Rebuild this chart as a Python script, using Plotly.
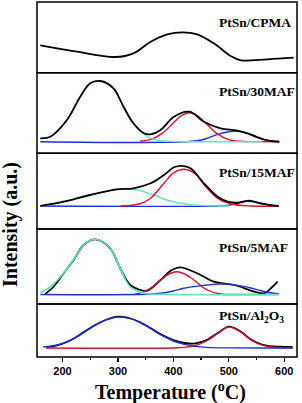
import plotly.graph_objects as go

# ---------------- data (temperature in degC, intensity in a.u.) ----------------
# Panel 1: PtSn/CPMA
cpma_T = [160, 226, 295, 328, 359, 389, 416, 443, 473, 503, 522, 570, 617]
cpma_black = [27.4, 21, 15.7, 19.4, 31, 38.4, 40.4, 38.4, 29.4, 16.7, 12.4, 13.4, 15]

# Panel 2: PtSn/30MAF
m30_T_black = [160, 178, 208, 232, 250, 268, 292, 310, 328, 347, 359, 377, 401, 429, 455, 485, 513, 534, 550, 564, 580, 591]
m30_black = [15, 16.6, 33.3, 56.6, 70, 72.3, 65, 46.6, 30, 20, 19, 23.3, 36.6, 41.6, 31.6, 25, 22.8, 20, 16.5, 13.8, 12, 11.6]
m30_T_cyan = [160, 178, 208, 232, 250, 268, 292, 310, 328, 347, 359, 377, 401, 429, 480, 560]
m30_cyan = [15, 16.6, 33.3, 56.6, 70, 72.3, 65, 46.6, 29, 19, 15, 12.6, 11.8, 11.6, 11.6, 11.6]
m30_T_red = [340, 360, 380, 400, 415, 429, 445, 460, 480, 500, 520, 545, 591]
m30_red = [12.1, 14, 19.9, 30.3, 37.8, 40.6, 37, 29.2, 19.1, 13.7, 12, 11.7, 11.6]
m30_T_blue = [160, 440, 460, 480, 500, 512, 525, 540, 555, 570, 591]
m30_blue = [11.6, 12.3, 14.8, 19, 21.5, 22.3, 21.3, 18.3, 15, 12.8, 11.8]

# Panel 3: PtSn/15MAF
m15_T_black = [160, 202, 250, 298, 328, 359, 383, 401, 415, 431, 455, 480, 498, 516, 537, 558, 590]
m15_black = [23, 27.3, 34, 39.7, 40.7, 45.7, 54, 61.7, 63.2, 60.7, 45.7, 32.3, 27.3, 26.3, 28.3, 25.7, 23]
m15_T_cyan = [160, 202, 250, 280, 300, 318, 340, 353, 370, 385, 405, 425, 445, 465, 500]
m15_cyan = [23, 27.3, 34, 37.8, 39.7, 40.2, 38.5, 36, 33, 29.5, 26.5, 24.8, 23.6, 23.1, 23]
m15_T_red = [305, 320, 341, 359, 383, 401, 420, 440, 455, 480, 504, 540, 590]
m15_red = [23, 23.5, 25.5, 30.7, 45.7, 56.3, 59.7, 55, 44.5, 30.7, 25, 23, 23]
m15_T_blue = [160, 480, 500, 515, 535, 555, 575, 590]
m15_blue = [23, 23, 23.8, 25.5, 27.8, 25.8, 23.6, 23]

# Panel 4: PtSn/5MAF
m5_T_black = [169, 185, 202, 220, 238, 259, 286, 304, 322, 341, 353, 377, 395, 413, 449, 473, 510, 546, 564, 576, 588]
m5_black = [10, 18, 30.7, 44, 59, 64.7, 55.7, 35.7, 19, 14, 13.3, 24, 33.3, 36.7, 29, 22.3, 19, 12.3, 10.7, 15.7, 22.3]
m5_T_cyan = [160, 178, 202, 220, 238, 259, 286, 304, 322, 347, 377, 590]
m5_cyan = [11.3, 17, 31, 44.5, 59, 64.7, 55.7, 35.7, 17.3, 10.7, 9.7, 9.5]
m5_T_red = [330, 347, 362, 377, 392, 407, 422, 437, 461, 485, 520, 590]
m5_red = [9.5, 12.3, 17, 24, 30, 32.3, 29.5, 24, 14, 10, 9.5, 9.5]
m5_T_blue = [160, 350, 377, 400, 419, 440, 461, 485, 505, 522, 540, 558, 581, 590]
m5_blue = [9.5, 9.7, 10.7, 13, 15.7, 17.6, 19, 20, 19.6, 18, 16, 13.3, 10.7, 10]

# Panel 5: PtSn/Al2O3
al_T_black = [172, 190, 210, 225, 240, 260, 280, 300, 320, 340, 360, 380, 400, 420, 440, 460, 480, 500, 520, 540, 560, 580, 600, 615]
al_black = [9.8, 11.5, 15.5, 20, 25.5, 32.3, 37.5, 40.3, 39, 34.8, 28.5, 22, 17, 14, 13.6, 17, 24, 30.3, 26, 17.5, 12.5, 10.6, 10.2, 10]
al_T_blue = [165, 180, 200, 220, 240, 260, 280, 300, 320, 340, 360, 380, 400, 420, 440, 460, 500, 615]
al_blue = [10, 11, 13.5, 18.3, 25, 32, 37.3, 40, 38.6, 34.5, 28, 21.3, 16, 12.6, 10.6, 9.6, 9.1, 9]
al_T_red = [170, 400, 420, 440, 460, 480, 500, 520, 540, 560, 580, 615]
al_red = [9, 9, 9.6, 11.5, 16, 23.5, 30, 25.5, 17, 11.8, 9.8, 9.2]

panel_names = ["<b>PtSn/CPMA</b>", "<b>PtSn/30MAF</b>", "<b>PtSn/15MAF</b>",
               "<b>PtSn/5MAF</b>", "<b>PtSn/Al<sub>2</sub>O<sub>3</sub></b>"]
x_ticks = [200, 300, 400, 500, 600]

# ---------------- styling ----------------
BLACK = "#000000"
CYAN = "#5fe3c2"
RED = "#d9102e"
BLUE = "#1f2fe0"

W, H = 302, 403
ML, MR, MT, MB = 37, 5, 2, 46
PW, PH = W - ML - MR, H - MT - MB

def py(pix):
    return (H - MB - pix) / PH

def px(pix):
    return (pix - ML) / PW

bounds = [2, 72.7, 153.3, 229, 304, 357]
domains = []
for i in range(5):
    lo = max(0.0, py(bounds[i + 1]))
    hi = min(1.0, py(bounds[i]))
    domains.append([lo, hi])

fig = go.Figure()

def add(T, v, color, panel, width):
    fig.add_trace(go.Scatter(
        x=T, y=v, mode="lines",
        line=dict(color=color, width=width, shape="spline", smoothing=1.0),
        yaxis="y" if panel == 1 else f"y{panel}", xaxis="x",
        showlegend=False, hoverinfo="skip"))

# panel 1
add(cpma_T, cpma_black, BLACK, 1, 1.8)
# panel 2 (black on top)
add(m30_T_blue, m30_blue, BLUE, 2, 1.4)
add(m30_T_red, m30_red, RED, 2, 1.4)
add(m30_T_cyan, m30_cyan, CYAN, 2, 1.4)
add(m30_T_black, m30_black, BLACK, 2, 1.8)
# panel 3 (black on top)
add(m15_T_blue, m15_blue, BLUE, 3, 1.4)
add(m15_T_cyan, m15_cyan, CYAN, 3, 1.4)
add(m15_T_red, m15_red, RED, 3, 1.4)
add(m15_T_black, m15_black, BLACK, 3, 1.8)
# panel 4 (components on top)
add(m5_T_black, m5_black, BLACK, 4, 1.8)
add(m5_T_red, m5_red, RED, 4, 1.4)
add(m5_T_blue, m5_blue, BLUE, 4, 1.4)
add(m5_T_cyan, m5_cyan, CYAN, 4, 1.6)
# panel 5 (components on top)
add(al_T_black, al_black, BLACK, 5, 1.8)
add(al_T_red, al_red, RED, 5, 1.4)
add(al_T_blue, al_blue, BLUE, 5, 1.4)

ranges = [bounds[i + 1] - bounds[i] for i in range(5)]
ranges[4] = 357 - 304

layout = dict(
    width=W, height=H,
    margin=dict(l=ML, r=MR, t=MT, b=MB),
    paper_bgcolor="white", plot_bgcolor="white",
    xaxis=dict(
        range=[154, 623], anchor="y5", tickvals=x_ticks,
        ticktext=[str(t) for t in x_ticks],
        ticks="outside", ticklen=4, tickwidth=1.3, tickcolor="black",
        minor=dict(ticks="outside", ticklen=2, tickwidth=1.2, tickcolor="black",
                   tickvals=[250, 350, 450, 550]),
        showgrid=False, zeroline=False, showline=False,
        tickfont=dict(family="Liberation Sans", size=11, color="black", weight="bold"),
    ),
)
for i in range(5):
    key = "yaxis" if i == 0 else f"yaxis{i+1}"
    layout[key] = dict(domain=domains[i], range=[0, ranges[i]], anchor="x",
                       showticklabels=False, ticks="", showgrid=False,
                       zeroline=False, showline=False, fixedrange=True)
fig.update_layout(**layout)

# panel frames
for d in domains:
    fig.add_shape(type="rect", xref="paper", yref="paper", x0=0, x1=1, y0=d[0], y1=d[1],
                  line=dict(color="black", width=1.5), fillcolor="rgba(0,0,0,0)", layer="above")

label_y = [22.7, 91.7, 172.7, 247.3, 316]
for name, ly in zip(panel_names, label_y):
    fig.add_annotation(text=name, xref="paper", yref="paper", x=px(216.5), y=py(ly),
                       xanchor="left", yanchor="middle", showarrow=False,
                       font=dict(family="Liberation Serif", size=13.5, color="black"))

fig.add_annotation(text="<b>Intensity (a.u.)</b>", xref="paper", yref="paper",
                   x=px(10), y=py(225), xanchor="center", yanchor="middle",
                   textangle=-90, showarrow=False,
                   font=dict(family="Liberation Serif", size=20, color="black"))
fig.add_annotation(text="<b>Temperature (<sup>o</sup>C)</b>", xref="paper", yref="paper",
                   x=px(170), y=py(391), xanchor="center", yanchor="middle",
                   showarrow=False,
                   font=dict(family="Liberation Serif", size=20, color="black"))

fig.write_html("out.html",
               config={"displayModeBar": False, "staticPlot": True},
               post_script="document.body.style.margin='0';document.body.style.overflow='hidden';")
